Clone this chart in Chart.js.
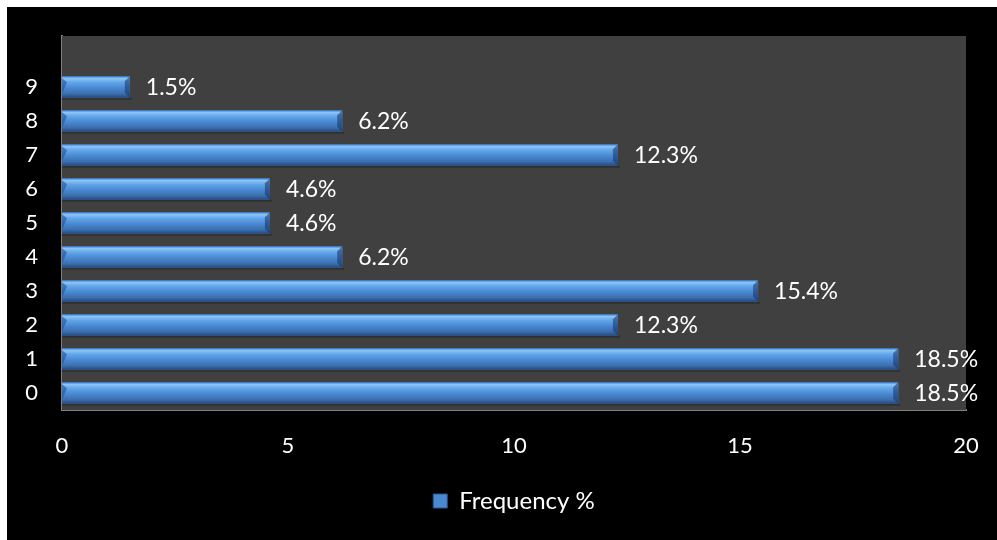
<!DOCTYPE html>
<html>
<head>
<meta charset="utf-8">
<script src="https://cdn.jsdelivr.net/npm/chart.js@4.4.0/dist/chart.umd.min.js"></script>
<style>
  html, body { margin: 0; padding: 0; background: #ffffff; }
  #wrap { position: absolute; left: 7px; top: 7px; width: 990px; height: 533px; background: #000000; }
</style>
</head>
<body>
<div id="wrap"><canvas id="freqChart"></canvas></div>
<script>
// Categories and values (top row of the plot is an empty category)
const categories = ['0', '1', '2', '3', '4', '5', '6', '7', '8', '9', ''];
const frequency = [18.5, 18.5, 12.3, 15.4, 6.2, 4.6, 4.6, 12.3, 6.2, 1.5, null];
const xTicks = [0, 5, 10, 15, 20];

const FONT = 'Lato, "Open Sans", sans-serif';

// dark plot background
const plotBg = {
    id: 'plotBg',
    beforeDatasetsDraw(chart) {
        const a = chart.chartArea;
        const ctx = chart.ctx;
        ctx.save();
        ctx.fillStyle = '#404040';
        ctx.fillRect(a.left, a.top, a.right - a.left, a.bottom - a.top);
        ctx.restore();
    }
};

// bevelled bar look + value labels
const barStyle = {
    id: 'barStyle',
    afterDatasetsDraw(chart) {
        const ctx = chart.ctx;
        const meta = chart.getDatasetMeta(0);
        ctx.save();
        meta.data.forEach((bar, i) => {
            if (frequency[i] == null) return;
            const x0 = bar.base, x1 = bar.x;
            const h = bar.height;
            const top = bar.y - h / 2, bot = bar.y + h / 2;
            // soft shadow under the bar
            ctx.fillStyle = 'rgba(0,0,0,0.25)';
            ctx.fillRect(x0, bot, x1 - x0 + 2, 2);
            const g = ctx.createLinearGradient(0, top, 0, bot);
            g.addColorStop(0, '#3b78c4');
            g.addColorStop(0.1, '#8cc4f6');
            g.addColorStop(0.28, '#62a6ea');
            g.addColorStop(0.55, '#4888d2');
            g.addColorStop(0.82, '#3b6eac');
            g.addColorStop(1, '#24477a');
            ctx.fillStyle = g;
            ctx.fillRect(x0, top, x1 - x0, h);
            // right bevel
            const b = 5;
            ctx.fillStyle = 'rgba(20,50,100,0.55)';
            ctx.beginPath();
            ctx.moveTo(x1, top);
            ctx.lineTo(x1, bot);
            ctx.lineTo(x1 - b, bot - b);
            ctx.lineTo(x1 - b, top + b);
            ctx.closePath();
            ctx.fill();
            // left bevel
            ctx.fillStyle = 'rgba(40,80,140,0.6)';
            ctx.beginPath();
            ctx.moveTo(x0, top + 2);
            ctx.lineTo(x0 + b, top + b + 1);
            ctx.lineTo(x0, bot - 4);
            ctx.closePath();
            ctx.fill();
            // value label
            ctx.fillStyle = '#ffffff';
            ctx.font = '23px ' + FONT;
            ctx.textAlign = 'left';
            ctx.textBaseline = 'middle';
            ctx.fillText(frequency[i].toFixed(1) + '%', x1 + 16, bar.y + 1);
        });
        ctx.restore();
    }
};

const ctx = document.getElementById('freqChart').getContext('2d');
new Chart(ctx, {
    type: 'bar',
    data: {
        labels: categories,
        datasets: [{
            label: 'Frequency %',
            data: frequency,
            backgroundColor: '#4686d0',
            borderWidth: 0,
            barPercentage: 0.63,
            categoryPercentage: 1.0
        }]
    },
    options: {
        indexAxis: 'y',
        responsive: true,
        maintainAspectRatio: false,
        animation: false,
        layout: { padding: { left: 0, top: 29, right: 31, bottom: 17 } },
        scales: {
            x: {
                min: 0,
                max: 20,
                afterBuildTicks(scale) { scale.ticks = xTicks.map(v => ({ value: v })); },
                afterFit(scale) {
                    scale.height = 69;
                    scale.paddingLeft = 0;
                    scale.paddingRight = 0;
                },
                grid: { display: false, drawTicks: false },
                border: { display: true, color: '#7f7f7f', width: 2 },
                ticks: { color: '#ffffff', font: { family: FONT, size: 22 }, padding: 23 }
            },
            y: {
                reverse: true,
                afterFit(scale) {
                    scale.width = 55;
                    scale.paddingTop = 0;
                    scale.paddingBottom = 0;
                },
                grid: { display: false, drawTicks: false },
                border: { display: true, color: '#7f7f7f', width: 2 },
                ticks: { color: '#ffffff', font: { family: FONT, size: 22 }, padding: 24, autoSkip: false }
            }
        },
        plugins: {
            legend: {
                position: 'bottom',
                fullSize: false,
                labels: {
                    color: '#ffffff',
                    font: { family: FONT, size: 24 },
                    boxWidth: 14,
                    boxHeight: 14,
                    padding: 10,
                    generateLabels() {
                        return [{
                            text: 'Frequency %',
                            fillStyle: '#4a88d2',
                            strokeStyle: '#2a5790',
                            lineWidth: 1,
                            fontColor: '#ffffff',
                            datasetIndex: 0
                        }];
                    }
                }
            },
            tooltip: { enabled: false }
        }
    },
    plugins: [plotBg, barStyle]
});
</script>
</body>
</html>
